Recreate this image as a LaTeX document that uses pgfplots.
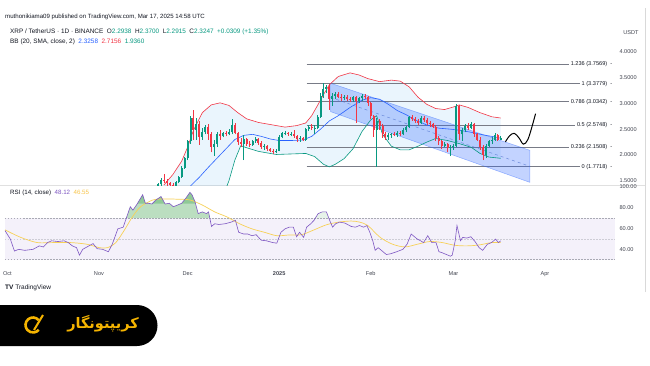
\documentclass[border=0pt]{standalone}
\usepackage{fontspec}
\setmainfont{Liberation Sans}
\newfontfamily\fafont[Script=Arabic]{DejaVu Sans}
\TeXXeTstate=1
\usepackage{pgfplots}
\pgfplotsset{compat=1.18}
\definecolor{up}{HTML}{089981}
\definecolor{dn}{HTML}{F23645}
\definecolor{bbm}{HTML}{2962FF}
\definecolor{bbfill}{HTML}{2196F3}
\definecolor{fibg}{HTML}{787B86}
\definecolor{rsip}{HTML}{7E57C2}
\definecolor{rsima}{HTML}{F7D158}
\definecolor{obg}{HTML}{3FA34D}
\definecolor{txt}{HTML}{131722}
\definecolor{lbl}{HTML}{434651}
\definecolor{gold}{HTML}{F5B400}
\tikzset{fiblbl/.style={anchor=east, fill=white, inner xsep=2pt, inner ysep=0.5pt, text=txt, font=\fontsize{5.6}{6}\selectfont}}

\begin{document}
\begin{tikzpicture}
\useasboundingbox (0pt,0pt) rectangle (650pt,365pt);
\fill[white] (0pt,0pt) rectangle (650pt,365pt);
\draw[black!12, line width=0.6pt] (0pt,180pt) -- (645pt,180pt);
\draw[black!15, line width=0.6pt] (645pt,73pt) -- (645pt,357pt);

% ---------------- price pane ----------------
\begin{axis}[at={(5pt,180pt)}, anchor=south west, scale only axis,
  width=610pt, height=140pt,
  xmin=-0.81, xmax=205.7, ymin=1.419, ymax=4.13,
  unbounded coords=jump,
  axis line style={draw=none}, tick style={draw=none},
  xtick=\empty, ytick={1.5,2,2.5,3,3.5,4},
  ytick pos=right, yticklabel pos=right,
  yticklabel style={font=\fontsize{5.6}{6}\selectfont, text=lbl, anchor=west, xshift=1pt,
    /pgf/number format/.cd, fixed, fixed zerofill, precision=4, assume math mode=true}]

% Bollinger band fill (upper band forward, lower band back)
\addplot[fill=bbfill, fill opacity=0.09, draw=none] coordinates {
(53,1.42) (56,1.62) (59,1.88) (61,2.15) (63,2.48) (66,2.82) (69,2.97) (72,3.01) (75,2.96)
(78,2.82) (81,2.70) (85,2.63) (90,2.58) (94,2.54) (98,2.57) (101,2.62) (103,2.76) (105,2.96)
(107,3.17) (109,3.36) (112,3.52) (116,3.59) (119,3.55) (122,3.48) (126,3.42) (130,3.45)
(133,3.43) (136,3.32) (139,3.12) (142,2.98) (145,2.90) (148,2.88) (151,2.93) (153,2.97)
(156,2.92) (160,2.82) (164,2.74) (167,2.7156)
(167,1.936) (163,1.96) (160,2.03) (157,2.15) (153,2.22) (149,2.28) (145,2.32) (142,2.25)
(139,2.17) (136,2.10) (133,2.10) (130,2.17) (127,2.40) (125,2.76) (123,2.68) (120,2.45)
(117,2.12) (114,1.93) (111,1.82) (109,1.77) (107,1.82) (104,1.97) (101,2.03) (96,2.02)
(91,2.01) (85,2.07) (81,2.14) (79,2.18) (77,1.90) (75,1.50) (73,1.20) (70,0.85) (66,0.55)
(60,0.30) (53,0.20)} -- cycle;

% Fibonacci levels
\pgfplotsinvokeforeach{3.7569,3.3779,3.0342,2.5748,2.1508,1.7718}{
  \addplot[fibg, line width=0.7pt] coordinates {(101.3,#1) (204.5,#1)};
}

% descending channel
\addplot[fill=bbm, fill opacity=0.28, draw=bbm, draw opacity=0.45, line width=0.5pt]
  coordinates {(109.4,3.39) (176.9,2.09) (176.9,1.47) (109.4,2.84)} -- cycle;
\addplot[bbm!60!gray, dashed, line width=0.5pt, opacity=0.7] coordinates {(109.4,3.115) (176.9,1.78)};

% band lines
\addplot[dn, line width=0.6pt] coordinates {
(53,1.42) (56,1.62) (59,1.88) (61,2.15) (63,2.48) (66,2.82) (69,2.97) (72,3.01) (75,2.96)
(78,2.82) (81,2.70) (85,2.63) (90,2.58) (94,2.54) (98,2.57) (101,2.62) (103,2.76) (105,2.96)
(107,3.17) (109,3.36) (112,3.52) (116,3.59) (119,3.55) (122,3.48) (126,3.42) (130,3.45)
(133,3.43) (136,3.32) (139,3.12) (142,2.98) (145,2.90) (148,2.88) (151,2.93) (153,2.97)
(156,2.92) (160,2.82) (164,2.74) (167,2.7156)};
\addplot[bbm, line width=0.6pt] coordinates {
(53,0.95) (56,1.05) (59,1.18) (62,1.40) (65,1.57) (68,1.76) (71,1.94) (74,2.12) (77,2.30)
(80,2.38) (83,2.40) (86,2.36) (89,2.31) (92,2.28) (96,2.28) (100,2.29) (103,2.36) (106,2.50)
(109,2.66) (112,2.76) (116,2.92) (120,3.06) (123,3.11) (126,3.08) (129,2.98) (132,2.86)
(135,2.78) (138,2.68) (142,2.58) (146,2.52) (150,2.50) (153,2.48) (157,2.44) (161,2.39)
(164,2.36) (167,2.3258)};
\addplot[up, line width=0.6pt] coordinates {
(53,0.20) (60,0.30) (66,0.55) (70,0.85) (73,1.20) (75,1.50) (77,1.90) (79,2.18) (81,2.14)
(85,2.07) (91,2.01) (96,2.02) (101,2.03) (104,1.97) (107,1.82) (109,1.77) (111,1.82)
(114,1.93) (117,2.12) (120,2.45) (123,2.68) (125,2.76) (127,2.40) (130,2.17) (133,2.10)
(136,2.10) (139,2.17) (142,2.25) (145,2.32) (149,2.28) (153,2.22) (157,2.15) (160,2.03)
(163,1.96) (167,1.936)};

% candle wicks (low-high), up days
\addplot[up, line width=0.5pt] coordinates {
(50,1.06)(50,1.14)(50,nan) (51,1.10)(51,1.45)(51,nan) (52,1.35)(52,1.56)(52,nan) (57,1.38)(57,1.49)(57,nan)
(58,1.45)(58,1.60)(58,nan) (59,1.55)(59,1.78)(59,nan) (60,1.73)(60,1.97)(60,nan) (61,1.90)(61,2.30)(61,nan)
(62,2.22)(62,2.75)(62,nan) (64,2.30)(64,2.72)(64,nan) (66,2.30)(66,2.52)(66,nan) (67,2.40)(67,2.58)(67,nan)
(70,1.98)(70,2.30)(70,nan) (71,2.15)(71,2.45)(71,nan) (73,2.34)(73,2.45)(73,nan) (75,2.38)(75,2.50)(75,nan)
(76,2.40)(76,2.70)(76,nan) (80,1.90)(80,2.38)(80,nan) (83,2.17)(83,2.30)(83,nan) (84,2.24)(84,2.34)(84,nan)
(87,2.10)(87,2.22)(87,nan) (91,2.03)(91,2.12)(91,nan) (92,2.07)(92,2.38)(92,nan) (93,2.32)(93,2.45)(93,nan)
(94,2.38)(94,2.46)(94,nan) (96,2.36)(96,2.44)(96,nan) (99,2.26)(99,2.36)(99,nan) (101,2.28)(101,2.52)(101,nan)
(102,2.46)(102,2.58)(102,nan) (104,2.40)(104,2.58)(104,nan) (105,2.50)(105,2.78)(105,nan) (106,2.72)(106,3.20)(106,nan)
(107,3.10)(107,3.40)(107,nan) (108,3.20)(108,3.35)(108,nan) (110,2.95)(110,3.20)(110,nan) (111,3.08)(111,3.22)(111,nan)
(114,3.06)(114,3.16)(114,nan) (117,3.02)(117,3.15)(117,nan) (119,3.00)(119,3.12)(119,nan) (120,3.05)(120,3.18)(120,nan)
(125,1.77)(125,2.72)(125,nan) (129,2.30)(129,2.42)(129,nan) (130,2.33)(130,2.42)(130,nan) (132,2.35)(132,2.46)(132,nan)
(134,2.38)(134,2.52)(134,nan) (135,2.44)(135,2.56)(135,nan) (136,2.52)(136,2.76)(136,nan) (140,2.60)(140,2.76)(140,nan)
(148,2.15)(148,2.26)(148,nan) (150,1.98)(150,2.20)(150,nan) (151,2.10)(151,2.22)(151,nan) (152,2.16)(152,2.99)(152,nan)
(154,2.28)(154,2.52)(154,nan) (155,2.44)(155,2.60)(155,nan) (157,2.50)(157,2.64)(157,nan) (162,1.95)(162,2.22)(162,nan)
(163,2.15)(163,2.30)(163,nan) (164,2.22)(164,2.34)(164,nan) (165,2.28)(165,2.42)(165,nan) (167,2.2915)(167,2.37)};
% candle wicks, down days
\addplot[dn, line width=0.5pt] coordinates {
(53,1.46)(53,1.63)(53,nan) (54,1.40)(54,1.53)(54,nan) (55,1.32)(55,1.48)(55,nan) (56,1.35)(56,1.46)(56,nan)
(63,2.30)(63,2.88)(63,nan) (65,2.20)(65,2.65)(65,nan) (68,2.30)(68,2.60)(68,nan) (69,2.05)(69,2.45)(69,nan)
(72,2.30)(72,2.48)(72,nan) (74,2.36)(74,2.46)(74,nan) (77,2.40)(77,2.62)(77,nan) (78,2.20)(78,2.44)(78,nan)
(79,2.15)(79,2.33)(79,nan) (81,2.18)(81,2.33)(81,nan) (82,2.15)(82,2.28)(82,nan) (85,2.20)(85,2.33)(85,nan)
(86,2.12)(86,2.27)(86,nan) (88,2.08)(88,2.20)(88,nan) (89,2.05)(89,2.14)(89,nan) (90,2.02)(90,2.12)(90,nan)
(95,2.37)(95,2.45)(95,nan) (97,2.33)(97,2.48)(97,nan) (98,2.25)(98,2.38)(98,nan) (100,2.28)(100,2.35)(100,nan)
(103,2.48)(103,2.60)(103,nan) (109,2.88)(109,3.38)(109,nan) (112,3.10)(112,3.22)(112,nan) (113,3.05)(113,3.18)(113,nan)
(115,3.05)(115,3.16)(115,nan) (116,3.03)(116,3.12)(116,nan) (118,2.62)(118,3.14)(118,nan) (121,3.08)(121,3.18)(121,nan)
(122,2.95)(122,3.14)(122,nan) (123,2.70)(123,3.02)(123,nan) (124,2.35)(124,2.78)(124,nan) (126,2.48)(126,2.70)(126,nan)
(127,2.33)(127,2.60)(127,nan) (128,2.30)(128,2.45)(128,nan) (131,2.36)(131,2.45)(131,nan) (133,2.37)(133,2.46)(133,nan)
(137,2.66)(137,2.78)(137,nan) (138,2.62)(138,2.74)(138,nan) (139,2.58)(139,2.70)(139,nan) (141,2.64)(141,2.75)(141,nan)
(142,2.58)(142,2.72)(142,nan) (143,2.55)(143,2.66)(143,nan) (144,2.52)(144,2.62)(144,nan) (145,2.28)(145,2.58)(145,nan)
(146,2.20)(146,2.36)(146,nan) (147,2.12)(147,2.30)(147,nan) (149,2.05)(149,2.24)(149,nan) (153,2.30)(153,2.96)(153,nan)
(156,2.48)(156,2.62)(156,nan) (158,2.35)(158,2.62)(158,nan) (159,2.28)(159,2.42)(159,nan) (160,2.10)(160,2.34)(160,nan)
(161,1.90)(161,2.20)(161,nan) (166,2.28)(166,2.41)};
% candle bodies (open-close), up days
\addplot[up, line width=2pt] coordinates {
(50,1.10)(50,1.11)(50,nan) (51,1.11)(51,1.43)(51,nan) (52,1.43)(52,1.52)(52,nan) (57,1.40)(57,1.47)(57,nan)
(58,1.47)(58,1.57)(58,nan) (59,1.57)(59,1.75)(59,nan) (60,1.75)(60,1.94)(60,nan) (61,1.94)(61,2.28)(61,nan)
(62,2.28)(62,2.71)(62,nan) (64,2.48)(64,2.60)(64,nan) (66,2.35)(66,2.45)(66,nan) (67,2.45)(67,2.55)(67,nan)
(70,2.15)(70,2.22)(70,nan) (71,2.22)(71,2.40)(71,nan) (73,2.36)(73,2.42)(73,nan) (75,2.40)(75,2.44)(75,nan)
(76,2.44)(76,2.58)(76,nan) (80,2.22)(80,2.31)(80,nan) (83,2.20)(83,2.27)(83,nan) (84,2.27)(84,2.31)(84,nan)
(87,2.16)(87,2.18)(87,nan) (91,2.05)(91,2.08)(91,nan) (92,2.08)(92,2.35)(92,nan) (93,2.35)(93,2.42)(93,nan)
(94,2.42)(94,2.43)(94,nan) (96,2.40)(96,2.41)(96,nan) (99,2.31)(99,2.33)(99,nan) (101,2.30)(101,2.50)(101,nan)
(102,2.50)(102,2.55)(102,nan) (104,2.52)(104,2.53)(104,nan) (105,2.53)(105,2.74)(105,nan) (106,2.74)(106,3.15)(106,nan)
(107,3.15)(107,3.28)(107,nan) (108,3.28)(108,3.32)(108,nan) (110,3.08)(110,3.15)(110,nan) (111,3.15)(111,3.18)(111,nan)
(114,3.10)(114,3.13)(114,nan) (117,3.06)(117,3.12)(117,nan) (119,3.05)(119,3.10)(119,nan) (120,3.10)(120,3.15)(120,nan)
(125,2.48)(125,2.66)(125,nan) (129,2.34)(129,2.38)(129,nan) (130,2.38)(130,2.40)(130,nan) (132,2.38)(132,2.43)(132,nan)
(134,2.40)(134,2.48)(134,nan) (135,2.48)(135,2.54)(135,nan) (136,2.54)(136,2.73)(136,nan) (140,2.62)(140,2.72)(140,nan)
(148,2.18)(148,2.22)(148,nan) (150,2.14)(150,2.16)(150,nan) (151,2.16)(151,2.18)(151,nan) (152,2.18)(152,2.94)(152,nan)
(154,2.40)(154,2.48)(154,nan) (155,2.48)(155,2.56)(155,nan) (157,2.52)(157,2.60)(157,nan) (162,2.00)(162,2.18)(162,nan)
(163,2.18)(163,2.27)(163,nan) (164,2.27)(164,2.30)(164,nan) (165,2.30)(165,2.38)(165,nan) (167,2.2938)(167,2.3247)};
% candle bodies, down days
\addplot[dn, line width=2pt] coordinates {
(53,1.52)(53,1.50)(53,nan) (54,1.50)(54,1.45)(54,nan) (55,1.45)(55,1.41)(55,nan) (56,1.41)(56,1.40)(56,nan)
(63,2.71)(63,2.48)(63,nan) (65,2.60)(65,2.35)(65,nan) (68,2.55)(68,2.40)(68,nan) (69,2.40)(69,2.15)(69,nan)
(72,2.40)(72,2.36)(72,nan) (74,2.42)(74,2.40)(74,nan) (77,2.58)(77,2.42)(77,nan) (78,2.42)(78,2.25)(78,nan)
(79,2.25)(79,2.22)(79,nan) (81,2.31)(81,2.22)(81,nan) (82,2.22)(82,2.20)(82,nan) (85,2.31)(85,2.24)(85,nan)
(86,2.24)(86,2.16)(86,nan) (88,2.18)(88,2.11)(88,nan) (89,2.11)(89,2.08)(89,nan) (90,2.08)(90,2.05)(90,nan)
(95,2.43)(95,2.40)(95,nan) (97,2.41)(97,2.36)(97,nan) (98,2.36)(98,2.31)(98,nan) (100,2.33)(100,2.30)(100,nan)
(103,2.55)(103,2.52)(103,nan) (109,3.32)(109,3.08)(109,nan) (112,3.18)(112,3.12)(112,nan) (113,3.12)(113,3.10)(113,nan)
(115,3.13)(115,3.08)(115,nan) (116,3.08)(116,3.06)(116,nan) (118,3.12)(118,3.05)(118,nan) (121,3.15)(121,3.12)(121,nan)
(122,3.12)(122,3.00)(122,nan) (123,3.00)(123,2.75)(123,nan) (124,2.75)(124,2.48)(124,nan) (126,2.66)(126,2.56)(126,nan)
(127,2.56)(127,2.40)(127,nan) (128,2.40)(128,2.34)(128,nan) (131,2.40)(131,2.38)(131,nan) (133,2.43)(133,2.40)(133,nan)
(137,2.73)(137,2.70)(137,nan) (138,2.70)(138,2.66)(138,nan) (139,2.66)(139,2.62)(139,nan) (141,2.72)(141,2.68)(141,nan)
(142,2.68)(142,2.62)(142,nan) (143,2.62)(143,2.60)(143,nan) (144,2.60)(144,2.55)(144,nan) (145,2.55)(145,2.32)(145,nan)
(146,2.32)(146,2.27)(146,nan) (147,2.27)(147,2.18)(147,nan) (149,2.22)(149,2.14)(149,nan) (153,2.94)(153,2.40)(153,nan)
(156,2.56)(156,2.52)(156,nan) (158,2.60)(158,2.40)(158,nan) (159,2.40)(159,2.30)(159,nan) (160,2.30)(160,2.15)(160,nan)
(161,2.15)(161,2.00)(161,nan) (166,2.38)(166,2.29)};

% projected path
\addplot[black, line width=1pt, smooth, tension=0.6] coordinates {
(168.6,2.255) (170,2.37) (171.6,2.42) (173.2,2.33) (174.7,2.21) (176.2,2.30) (177.6,2.55) (178.8,2.80)};

% fib labels
\node[fiblbl] at (axis cs:205.5,3.7569) {1.236 (3.7569)\ \ -};
\node[fiblbl] at (axis cs:205.5,3.3779) {1 (3.3779)\ \ -};
\node[fiblbl] at (axis cs:205.5,3.0342) {0.786 (3.0342)\ \ -};
\node[fiblbl] at (axis cs:205.5,2.5748) {0.5 (2.5748)\ \ -};
\node[fiblbl] at (axis cs:205.5,2.1508) {0.236 (2.1508)\ \ -};
\node[fiblbl] at (axis cs:205.5,1.7718) {0 (1.7718)\ \ -};
\end{axis}

% ---------------- RSI pane ----------------
\begin{axis}[at={(5pt,100pt)}, anchor=south west, scale only axis,
  width=610pt, height=80pt,
  xmin=-0.81, xmax=205.7, ymin=24.9, ymax=101.9,
  axis line style={draw=none}, tick style={draw=none},
  xtick={0,31,61,92,123,151,182},
  xticklabels={Oct,Nov,Dec,\textbf{2025},Feb,Mar,Apr},
  xticklabel style={font=\fontsize{5.6}{6}\selectfont, text=lbl, inner sep=0pt, yshift=-6pt},
  ytick={40,60,80,100},
  ytick pos=right, yticklabel pos=right,
  yticklabel style={font=\fontsize{5.6}{6}\selectfont, text=lbl, anchor=west, xshift=1pt,
    /pgf/number format/.cd, fixed, fixed zerofill, precision=2, assume math mode=true}]
\addplot[fill=rsip, fill opacity=0.08, draw=none] coordinates {(-0.81,30) (205.7,30) (205.7,70) (-0.81,70)} -- cycle;
\addplot[fibg, line width=0.5pt, draw opacity=0.6, dash pattern=on 1.5pt off 1.5pt] coordinates {(-0.81,70) (205.7,70)};
\addplot[fibg, line width=0.5pt, draw opacity=0.6, dash pattern=on 1.5pt off 1.5pt] coordinates {(-0.81,30) (205.7,30)};
\addplot[fibg, line width=0.4pt, draw opacity=0.3, dash pattern=on 1.5pt off 1.5pt] coordinates {(-0.81,50) (205.7,50)};

% overbought fill (RSI above 70), darker near the top
\addplot[fill=obg, fill opacity=0.35, draw=none] coordinates {
(40.26,70) (41.6,81) (42.5,77.7) (43.7,82.6) (45.8,92.5) (46.7,84.3) (47.8,84.3) (48.9,83.6) (50.3,87.5)
(52,90.8) (53.4,83.6) (54.8,84.3) (56.2,81) (57.6,82.6) (59,84.3) (60.4,89.2) (61.8,94.8) (62.5,92.5)
(63.5,85.9) (64.6,74.4) (66,76) (67.4,74.4) (68.1,76) (68.53,70)} -- cycle;
\addplot[fill=obg, fill opacity=0.35, draw=none] coordinates {(44.0,84) (45.8,92.5) (46.7,84.3) (47.8,84.3) (48.27,84)} -- cycle;
\addplot[fill=obg, fill opacity=0.35, draw=none] coordinates {(49.04,84) (50.3,87.5) (52,90.8) (53.32,84)} -- cycle;
\addplot[fill=obg, fill opacity=0.35, draw=none] coordinates {(58.75,84) (59,84.3) (60.4,89.2) (61.8,94.8) (62.5,92.5) (63.5,85.9) (63.68,84)} -- cycle;
\addplot[fill=obg, fill opacity=0.12, draw=none] coordinates {(104.25,70) (105.2,74.4) (106.6,76) (108,76) (108.81,70)} -- cycle;

\addplot[rsima, line width=0.7pt, smooth] coordinates {
(-0.8,58.7) (4.5,51.5) (10.1,46.5) (15.7,46.5) (21.3,46.5) (26.9,44.9) (31.1,41.6) (33.9,41.6) (36.7,46.5)
(39.5,58) (42.3,71.1) (45.1,81) (49.3,87.5) (53.4,88.5) (57.6,88.2) (61.8,87.5) (66,82.6) (70.2,76)
(74.4,71.1) (78.6,64.6) (82.8,59.7) (87,56.4) (91.2,53.1) (95.4,53.8) (99.6,54.1) (103.8,58.7) (108,63.6)
(112.2,66.2) (116.4,67.2) (119.2,66.2) (122,62.9) (126.2,51.5) (130.4,44.9) (134.6,42.3) (138.8,44.9)
(143,47.5) (147.2,46.5) (151.4,43.9) (155.5,43.3) (159.7,44.2) (163.9,46.5) (167,46.55)};

\addplot[rsip, line width=0.6pt] coordinates {
(-0.8,58) (1,49.8) (2.4,38.3) (3.8,40) (5.9,39) (8.7,40) (10.8,43.3) (12.2,42.3) (13.6,46.5) (15,48.2)
(17.1,47.5) (19.2,48.2) (20.6,46.5) (22,43.3) (23.4,41.6) (24.4,34.4) (25.5,40) (27.6,43.3) (29,45.5)
(30.4,40.6) (32.2,40) (34.2,37.7) (35.5,44.9) (37.4,59.7) (39.2,61.3) (40.2,69.5) (41.6,81) (42.5,77.7)
(43.7,82.6) (45.8,92.5) (46.7,84.3) (47.8,84.3) (48.9,83.6) (50.3,87.5) (52,90.8) (53.4,83.6) (54.8,84.3)
(56.2,81) (57.6,82.6) (59,84.3) (60.4,89.2) (61.8,94.8) (62.5,92.5) (63.5,85.9) (64.6,74.4) (66,76)
(67.4,74.4) (68.1,76) (69.1,62) (70.2,64.6) (71.6,63.9) (73.7,64.6) (75.8,66.2) (77.2,67.9) (78.3,56.4)
(80,54.7) (81.4,54.7) (82.8,53.1) (84.2,54.1) (85.9,48.8) (87.7,48.2) (89.8,46.5) (91.2,45.9) (92.6,56.4)
(94,59.7) (95.4,61.3) (96.8,61.3) (97.9,52.1) (98.9,56.4) (100.3,51.5) (101.3,61.3) (102.7,64.6)
(103.8,67.9) (105.2,74.4) (106.6,76) (108,76) (109.1,67.9) (110.1,61.3) (111.1,64.6) (112.5,66.2)
(114.3,65.2) (116.4,62) (117.8,61.3) (119.2,62.9) (120.6,61.3) (121.7,62.9) (122.7,56.4) (123.7,48.2)
(124.5,39) (125.5,41.6) (126.9,38.3) (128.3,35) (129.7,35.7) (131.8,37.7) (133.9,40) (135.3,44.9)
(136.7,54.7) (137.4,53.1) (138.8,49.8) (139.9,48.2) (140.9,46.5) (142.3,53.1) (143.7,46.5) (145.1,46.5)
(146.1,37.7) (147.2,36.7) (148.6,35) (150,33.4) (150.6,34.4) (151.6,48.2) (152.2,62.9) (153.4,48.2)
(154.1,51.5) (155.5,50.8) (156.9,52.1) (158.3,47.5) (159.7,41.6) (160.9,39) (162.5,44.9) (163.9,46.5)
(165.3,49.8) (166.2,46.5) (167,48.12)};
\end{axis}

% ---------------- header texts ----------------
\node[anchor=west, inner sep=0pt, text=txt, font=\fontsize{6.1}{7}\selectfont] at (5pt,348pt)
  {muthonikiama09 published on TradingView.com, Mar 17, 2025 14:58 UTC};
\node[anchor=west, inner sep=0pt, text=txt, font=\fontsize{6.4}{7}\selectfont] at (10pt,333pt)
  {XRP / TetherUS · 1D · BINANCE\ \ O\textcolor{up}{2.2938}\ \ H\textcolor{up}{2.3700}\ \ L\textcolor{up}{2.2915}\ \ C\textcolor{up}{2.3247}\ \ \textcolor{up}{+0.0309 (+1.35\%)}};
\node[anchor=west, inner sep=0pt, text=txt, font=\fontsize{6.4}{7}\selectfont] at (10pt,323pt)
  {BB (20, SMA, close, 2)\ \ \textcolor{bbm}{2.3258}\ \ \textcolor{dn}{2.7156}\ \ \textcolor{up}{1.9360}};
\node[anchor=west, inner sep=0pt, text=txt, font=\fontsize{6.2}{7}\selectfont] at (10pt,172pt)
  {RSI (14, close)\ \ \textcolor{rsip}{48.12}\ \ \textcolor{rsima!85!orange}{46.55}};
\node[inner sep=0pt, text=lbl, font=\fontsize{5.6}{6}\selectfont] at (631pt,332pt) {USDT};
\node[anchor=west, inner sep=0pt, text=txt, font=\fontsize{6.5}{7}\selectfont] at (5pt,77pt)
  {{\bfseries TV}\ TradingView};

% ---------------- logo ----------------
\fill[black] (0pt,19pt) -- (137pt,19pt) arc[start angle=-90, end angle=90, radius=20.5pt] -- (0pt,60pt) -- cycle;
\draw[gold, line width=2.6pt] (33pt,40pt) ++(40:7.5pt) arc[start angle=40, end angle=320, radius=7.5pt];
\draw[gold, line width=2pt] (34pt,35pt) -- (43pt,50pt);
\node[text=gold, inner sep=0pt, font=\fafont\bfseries\fontsize{14.5}{16}\selectfont] at (103pt,41pt) {\beginR کریپتونگار\endR};
\end{tikzpicture}
\end{document}
